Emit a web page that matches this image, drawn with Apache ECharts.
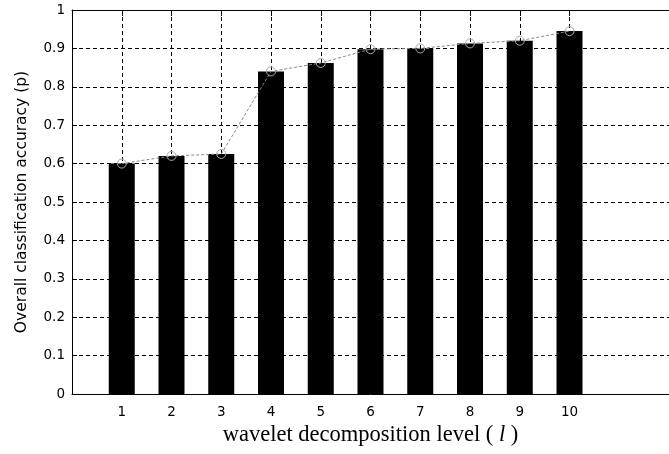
<!DOCTYPE html>
<html>
<head>
<meta charset="utf-8">
<script src="https://cdn.jsdelivr.net/npm/echarts@6/dist/echarts.min.js"></script>
<style>
html,body{margin:0;padding:0;background:#fff;}
#c{width:669px;height:454px;}
</style>
</head>
<body>
<div id="c"></div>
<script>
var levels = [1, 2, 3, 4, 5, 6, 7, 8, 9, 10];
var accuracy = [0.60, 0.62, 0.625, 0.84, 0.862, 0.898, 0.90, 0.913, 0.92, 0.945];
var yTicks = [0, 0.1, 0.2, 0.3, 0.4, 0.5, 0.6, 0.7, 0.8, 0.9, 1];
var xLabelParts = ['wavelet decomposition level ( ', 'l', ' )'];
var yLabel = 'Overall classification accuracy (p)';

var pts = levels.map(function (l, i) { return [l, accuracy[i]]; });
var tickFont = { fontFamily: 'DejaVu Sans', fontSize: 13.5, color: '#000' };

var chart = echarts.init(document.getElementById('c'), null, { renderer: 'canvas' });
chart.setOption({
  animation: false,
  backgroundColor: '#fff',
  grid: { left: 72, top: 10, width: 598, height: 384 },
  xAxis: [{
    type: 'value', min: 0, max: 12, interval: 1, position: 'bottom',
    name: '{n|' + xLabelParts[0] + '}{i|' + xLabelParts[1] + '}{n|' + xLabelParts[2] + '}',
    nameLocation: 'middle', nameGap: 30,
    nameTextStyle: {
      fontFamily: 'Liberation Serif', fontSize: 22.5, color: '#000',
      rich: {
        n: { fontFamily: 'Liberation Serif', fontSize: 22.5, color: '#000' },
        i: { fontFamily: 'Liberation Serif', fontSize: 22.5, fontStyle: 'italic', color: '#000' }
      }
    },
    axisLine: { lineStyle: { color: '#000', width: 1 } },
    axisTick: { inside: true, length: 5, customValues: levels, lineStyle: { color: '#000' } },
    axisLabel: Object.assign({ customValues: levels, margin: 11 }, tickFont),
    splitLine: { show: true, lineStyle: { color: '#000', type: [4, 3], width: 1 } }
  }, {
    type: 'value', min: 0, max: 12, interval: 1, position: 'top',
    axisLine: { show: true, lineStyle: { color: '#000', width: 1 } },
    axisTick: { inside: true, length: 6, customValues: levels, lineStyle: { color: '#000' } },
    axisLabel: { show: false },
    splitLine: { show: false }
  }],
  yAxis: {
    type: 'value', min: 0, max: 1, interval: 0.1,
    name: yLabel, nameLocation: 'middle', nameGap: 42,
    nameTextStyle: { fontFamily: 'DejaVu Sans', fontSize: 15.5, color: '#000' },
    axisLine: { show: true, lineStyle: { color: '#000', width: 1 } },
    axisTick: { inside: true, length: 5, lineStyle: { color: '#000' } },
    axisLabel: Object.assign({ margin: 7, formatter: function (v) { return String(+v.toFixed(1)); } }, tickFont),
    splitLine: { show: true, lineStyle: { color: '#000', type: [4, 3], width: 1 } }
  },
  series: [{
    type: 'bar', data: pts, barWidth: 26, z: 2,
    itemStyle: { color: '#000' }
  }, {
    type: 'line', data: pts, z: 3,
    symbol: 'circle', symbolSize: 9,
    lineStyle: { color: '#888', width: 1, type: [3, 2] },
    itemStyle: { color: 'rgba(0,0,0,0)', borderColor: '#aaa', borderWidth: 1 }
  }]
});
</script>
</body>
</html>
